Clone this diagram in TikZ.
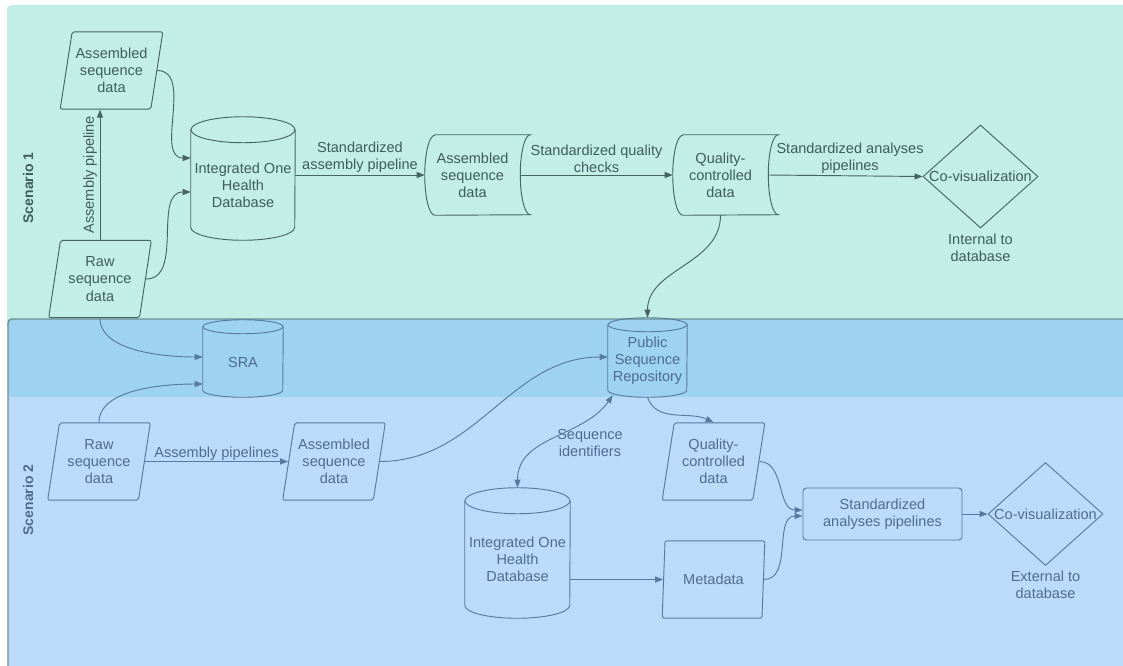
\documentclass[tikz,border=0pt]{standalone}
\usepackage{fontspec}
\setmainfont{Liberation Sans}
\usetikzlibrary{shapes.geometric,arrows.meta}
\definecolor{bgtop}{HTML}{C3EDE7}
\definecolor{bgmid}{HTML}{9DD2F0}
\definecolor{bgbot}{HTML}{BCDBFA}
\definecolor{tealtxt}{HTML}{3E5D5C}
\definecolor{tealln}{HTML}{46655F}
\definecolor{bluetxt}{HTML}{4F6C8E}
\definecolor{blueln}{HTML}{587A9E}
\definecolor{bandln}{HTML}{6A8F95}
\newcommand\cylshape[4]{%
  \draw[#4] (#1.north west) -- ([yshift=#3]#1.south west)
    arc[start angle=180,end angle=360,x radius=#2,y radius=#3] -- (#1.north east);
  \draw[#4] (#1.north) ellipse[x radius=#2,y radius=#3];}
% name, depth, half height, style
\newcommand\storshape[4]{%
  \draw[#4] ([xshift=#2]#1.north west) -- ([xshift=#2]#1.north east)
    arc[start angle=90,end angle=270,x radius=#2,y radius=#3]
    -- ([xshift=#2]#1.south west)
    arc[start angle=270,end angle=90,x radius=#2,y radius=#3] -- cycle;}
\begin{document}
\begin{tikzpicture}[x=0.75pt,y=0.75pt,
  font=\fontsize{10.9}{12.8}\selectfont,
  t1/.style={text=tealtxt, align=center},
  t2/.style={text=bluetxt, align=center},
  l1/.style={draw=tealln, line width=0.7pt},
  l2/.style={draw=blueln, line width=0.7pt},
  arr/.style={-{Triangle[length=6pt,width=4.5pt]}},
  para/.style={trapezium, trapezium left angle=75, trapezium right angle=105,
    trapezium stretches body, minimum width=77pt, minimum height=58pt,
    inner sep=0pt, rounded corners=1.5pt, align=center},
  plain/.style={rectangle, inner sep=0pt, align=center},
  lab/.style={inner sep=1.2pt, align=center},
  dia/.style={diamond, inner sep=0pt, minimum width=86.25pt, minimum height=77.25pt},
  scen/.style={font=\fontsize{10.5}{12}\selectfont\bfseries, rotate=90}
]
\useasboundingbox (0,0) rectangle (1123,-665);
% backgrounds
\fill[white] (0,0) rectangle (1123,-665);
\fill[bgtop, rounded corners=3pt] (7,-5) rectangle (1130,-330);
\fill[bgbot, rounded corners=3pt] (8,-319) rectangle (1130,-675);
\fill[bgmid, rounded corners=3pt] (8,-319) rectangle (1130,-397);
\draw[bandln, line width=1.1pt, rounded corners=3pt] (8,-670) |- (1130,-319);

% scenario labels
\node[scen, text=tealtxt] (s1) at (28,-188) {Scenario 1};
\node[scen, text=bluetxt] (s2) at (28,-500) {Scenario 2};

% ---------------- Scenario 1 ----------------
\node[para, l1, t1] (asm1) at (111.5,-70.5) {Assembled\\sequence\\data};
\node[para, l1, t1] (raw1) at (100,-279) {Raw\\sequence\\data};
\node[plain, t1, minimum width=78pt, minimum height=82.5pt] (db1) at (243,-185) {Integrated One\\Health\\Database};
\cylshape{db1}{39pt}{9.75pt}{l1}
\node[plain, t1, minimum width=71.25pt, minimum height=60pt] (asm2) at (472.5,-175) {Assembled\\sequence\\data};
\storshape{asm2}{7.5pt}{30pt}{l1}
\node[plain, t1, minimum width=71.25pt, minimum height=60pt] (qc1) at (720.5,-175) {Quality-\\controlled\\data};
\storshape{qc1}{7.5pt}{30pt}{l1}
\node[dia, l1, draw, t1] (cv1) at (980.5,-176.5) {\makebox[0pt]{Co-visualization}};
\node[t1, inner sep=0pt] (int1) at (980.5,-248) {Internal to\\database};

\draw[l1, arr] (raw1.north) -- (raw1.north |- asm1.south)
  node[midway, sloped, above, t1, inner sep=2pt] {Assembly pipeline};
\draw[l1, arr] (asm1.east) to[out=0,in=180] ([yshift=20.25pt]db1.west);
\draw[l1, arr] (raw1.east) to[out=0,in=180] ([yshift=-5.25pt]db1.west);
\draw[l1, arr] (db1.east |- asm2.west) -- (asm2.west)
  node[midway, above, lab, t1] {Standardized\\assembly pipeline};
\draw[l1, arr] (asm2.east) -- (qc1.west)
  node[midway, above, lab, t1] {Standardized quality\\checks};
\draw[l1, arr] (qc1.east) -- (cv1.west)
  node[pos=0.53, above, lab, t1] {Standardized analyses\\pipelines};

% ---------------- Middle band ----------------
\node[plain, t2, minimum width=60pt, minimum height=52.5pt] (sra) at (243,-362) {SRA};
\cylshape{sra}{30pt}{5.25pt}{l2}
\node[plain, t2, minimum width=59.25pt, minimum height=54pt] (psr) at (647.5,-361) {Public\\Sequence\\Repository};
\cylshape{psr}{29.625pt}{5.25pt}{l2}

\draw[l1, arr] (qc1.south) to[out=-90,in=90] ([yshift=5.25pt]psr.north);
\draw[l2, arr] (raw1.south) to[out=-90,in=180,looseness=0.8] ([yshift=3.75pt]sra.west);

% ---------------- Scenario 2 ----------------
\node[para, l2, t2] (raw2) at (99,-461.5) {Raw\\sequence\\data};
\node[para, l2, t2] (asm3) at (334,-461.5) {Assembled\\sequence\\data};
\node[para, l2, t2] (qc2) at (713.5,-461.5) {Quality-\\controlled\\data};
\node[para, l2, t2] (meta) at (713.5,-579.5) {Metadata};
\node[plain, t2, minimum width=78.75pt, minimum height=87.75pt] (db2) at (517.5,-559.5) {Integrated One\\Health\\Database};
\cylshape{db2}{39.375pt}{9.75pt}{l2}
\node[rectangle, rounded corners=2.5pt, l2, draw, t2, minimum width=119.25pt, minimum height=39pt] (sap) at (882.5,-514) {Standardized\\analyses pipelines};
\node[dia, l2, draw, t2] (cv2) at (1045.5,-514) {\makebox[0pt]{Co-visualization}};
\node[t2, inner sep=0pt] (ext2) at (1045.5,-585) {External to\\database};
\node[t2, inner sep=0pt] (seqid) at (590,-443) {Sequence\\identifiers};

\draw[l2, arr] (raw2.north) to[out=90,in=180,looseness=0.8] ([yshift=-16.5pt]sra.west);
\draw[l2, arr] (raw2.east) -- (asm3.west)
  node[midway, above, inner sep=0.5pt, t2] {Assembly pipelines};
\draw[l2, arr] (asm3.east) to[out=0,in=180] ([yshift=3pt]psr.west);
\draw[l2, {Triangle[length=6pt,width=4.5pt]}-{Triangle[length=6pt,width=4.5pt]}]
  ([yshift=9.75pt]db2.north) to[out=90,in=235] ([xshift=3.75pt,yshift=1.5pt]psr.south west);
\draw[l2, arr] (psr.south) to[out=-70,in=155] (qc2.north);
\draw[l2, arr] (db2.east |- meta.west) -- (meta.west);
\draw[l2, arr] (qc2.east) to[out=0,in=180] ([yshift=3pt]sap.west);
\draw[l2, arr] (meta.east) to[out=0,in=180] ([yshift=-1.5pt]sap.west);
\draw[l2, arr] (sap.east) -- (cv2.west);
\end{tikzpicture}
\end{document}
